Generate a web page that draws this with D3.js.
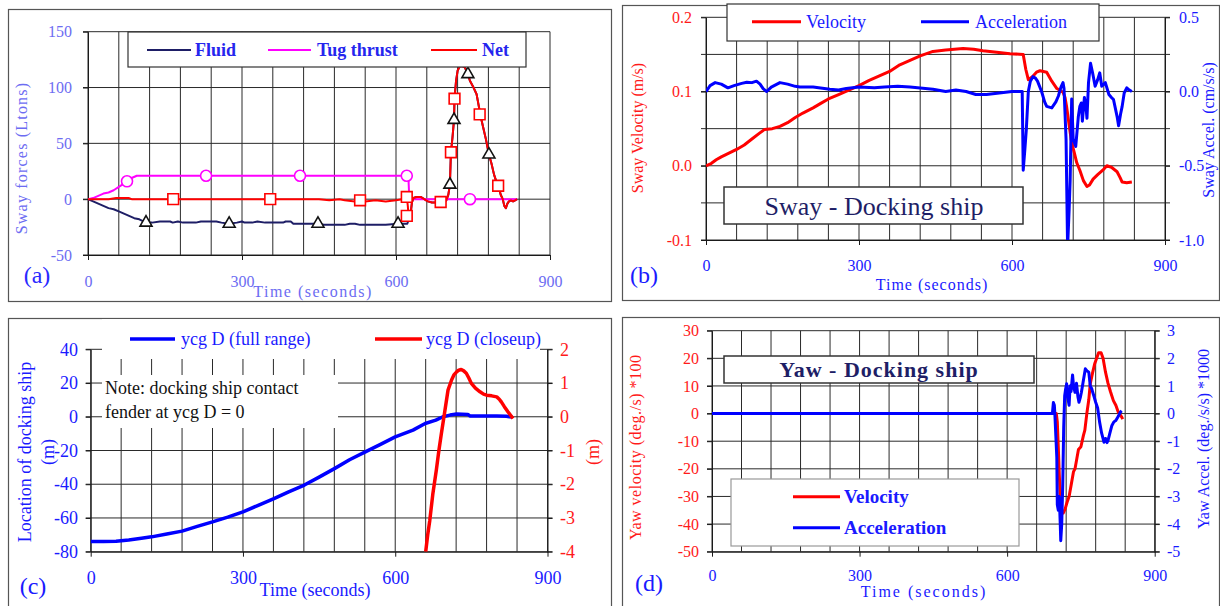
<!DOCTYPE html>
<html>
<head>
<meta charset="utf-8">
<script src="https://cdn.jsdelivr.net/npm/d3@7"></script>
<style>
  body { margin: 0; background: #fff; }
  svg text { font-family: "Liberation Serif", "Times New Roman", serif !important; }
</style>
</head>
<body>
<div id="canvas"></div>
<script>
// ---- shared ticks ----
var timeTicks = [0, 300, 600, 900];
var timeGrid = [0, 60, 120, 180, 240, 300, 360, 420, 480, 540, 600, 660, 720, 780, 840, 900];

// ---- (a) sway forces ----
var aForceTicks = [-50, 0, 50, 100, 150];
var aFluidEarly = [[0,0],[10,-2],[20,-4],[30,-6],[40,-8],[50,-9],[60,-11],[70,-13],[80,-15],[90,-17],[100,-18],[113,-21],[125,-21],[140,-20],[160,-20],[165,-21],[175,-20],[185,-21],[210,-21],[220,-20],[250,-20],[260,-21],[275,-22],[290,-21],[300,-20],[305,-21],[320,-21],[330,-20],[345,-21],[380,-21],[385,-20],[395,-20],[400,-22],[445,-22],[460,-23],[500,-23],[510,-22],[520,-22],[530,-23],[580,-23],[604,-22],[622,-22]];
var aNetEarly = [[0,0],[20,0],[40,0],[55,1],[80,1],[85,0],[166,0],[355,0],[450,0],[470,-1],[490,0],[500,-1],[520,-2],[530,-1],[540,-2],[560,-1],[580,-2],[600,-1],[612,0],[618,0],[621,2],[623,-6]];
var aContact = [[625,-18],[628,-15],[631,-3],[634,1],[640,2],[648,2],[655,0],[662,-2],[670,-3],[690,-3],[698,-1],[702,4],[705,13],[707,42],[710,55],[713,71],[714,90],[717,106],[720,115],[724,119],[730,119],[734,118],[740,112],[744,106],[750,101],[757,94],[761,84],[765,74],[770,64],[775,54],[781,40],[786,32],[791,22],[796,15],[800,11],[804,4],[808,0],[811,-6],[814,-8],[817,-4],[820,-2],[824,-1],[828,-2],[832,-1],[836,0]];
var aTug = [[0,0],[10,1],[20,3],[30,5],[40,6],[50,8],[60,11],[70,14],[76,16],[85,19],[95,21],[620,21],[624,21],[626,0],[836,0]];
var aFluidMarks = [[113,-21],[275,-22],[448,-22],[604,-22],[705,13],[713,71],[740,112],[781,40]];
var aTugMarks = [[76,16],[230,21],[413,21],[621,21],[744,0]];
var aNetMarks = [[166,0],[355,0],[530,-1],[621,2],[621,-15],[687,-2.5],[707,42],[714,90],[763,76],[799,12]];

// ---- (b) sway velocity / acceleration ----
var bVelTicks = [-0.1, 0, 0.1, 0.2];
var bVelGrid = [-0.1, -0.05, 0, 0.05, 0.1, 0.15, 0.2];
var bAccTicks = [-1, -0.5, 0, 0.5];
var bVel = [[0,0],[10,0.003],[20,0.008],[30,0.012],[45,0.017],[60,0.022],[75,0.028],[90,0.036],[105,0.044],[115,0.049],[130,0.050],[145,0.053],[160,0.058],[175,0.065],[190,0.071],[210,0.078],[225,0.084],[240,0.090],[260,0.096],[280,0.102],[300,0.108],[320,0.115],[340,0.121],[360,0.127],[380,0.136],[400,0.142],[420,0.148],[445,0.154],[470,0.156],[504,0.158],[525,0.157],[543,0.155],[570,0.153],[596,0.151],[622,0.150],[627,0.130],[632,0.116],[640,0.120],[648,0.126],[655,0.128],[668,0.126],[678,0.114],[688,0.104],[700,0.099],[704,0.092],[707,0.080],[712,0.055],[717,0.031],[722,0.018],[727,0.004],[733,-0.006],[740,-0.020],[747,-0.028],[752,-0.026],[759,-0.018],[768,-0.012],[778,-0.006],[786,0.000],[795,-0.002],[806,-0.008],[812,-0.016],[816,-0.022],[825,-0.023],[835,-0.022]];
var bAcc = [[0,0],[8,0.04],[18,0.06],[30,0.05],[43,0.025],[55,0.04],[70,0.055],[80,0.063],[90,0.06],[99,0.07],[106,0.05],[112,0.02],[119,0.0],[128,0.03],[145,0.06],[160,0.05],[175,0.035],[184,0.03],[210,0.03],[243,0.015],[260,0.01],[275,0.02],[300,0.03],[330,0.025],[350,0.03],[376,0.036],[400,0.03],[445,0.016],[470,0.0],[490,0.01],[510,0.0],[529,-0.02],[550,-0.02],[575,-0.01],[600,0.0],[620,0.0],[622,-0.53],[625,-0.4],[628,-0.26],[632,0.0],[636,0.07],[641,0.10],[646,0.09],[650,0.07],[658,0.0],[664,-0.07],[668,-0.10],[678,-0.11],[686,-0.07],[691,-0.03],[696,0.03],[700,0.06],[702,0.02],[706,-0.32],[709,-1.05],[712,-0.8],[714,-0.6],[717,-0.05],[720,-0.32],[725,-0.37],[730,-0.17],[733,-0.1],[736,-0.077],[738,-0.2],[742,-0.04],[745,-0.1],[747,-0.18],[750,0.06],[754,0.19],[758,0.126],[763,0.036],[768,0.08],[772,0.126],[776,0.036],[783,0.06],[790,-0.02],[795,-0.04],[799,-0.054],[806,-0.167],[809,-0.23],[813,-0.15],[816,-0.10],[820,-0.01],[825,0.025],[830,0.01],[835,0.0]];

// ---- (c) ship location ----
var cLocTicks = [-80, -60, -40, -20, 0, 20, 40];
var cCloseTicks = [-4, -3, -2, -1, 0, 1, 2];
var cFull = [[0,-74],[25,-74],[50,-73.8],[75,-73],[100,-72],[120,-71.2],[150,-69.5],[180,-67.8],[210,-65],[240,-62.3],[270,-59.5],[300,-56.4],[330,-52.5],[361,-48.5],[390,-44.5],[421,-40.5],[450,-35.8],[481,-30.6],[510,-25.5],[541,-20.8],[570,-16.5],[600,-11.9],[635,-7.9],[659,-4],[680,-2],[694,0],[708,1],[721,1.6],[743,1.4],[747,0.5],[780,0.5],[800,0.5],[819,0.3],[825,0],[831,-0.2]];
var cClose = [[660,-4],[664,-3.5],[668,-3.08],[674,-2.3],[681,-1.58],[686,-1.0],[691,-0.49],[697,0.1],[704,0.79],[711,1.09],[716,1.25],[721,1.33],[725,1.38],[730,1.4],[735,1.36],[740,1.29],[745,1.15],[750,0.99],[758,0.85],[767,0.74],[774,0.67],[780,0.64],[790,0.62],[800,0.59],[805,0.52],[809,0.44],[815,0.3],[822,0.15],[828,0.03],[832,-0.05]];

// ---- (d) yaw velocity / acceleration ----
var dVelTicks = [-50, -40, -30, -20, -10, 0, 10, 20, 30];
var dAccTicks = [-5, -4, -3, -2, -1, 0, 1, 2, 3];
var dVel = [[0,0],[700,0],[702,-3],[704,-12],[706,-22],[708,-30],[711,-36],[714,-36],[718,-34.5],[722,-32],[726,-30],[731,-25],[735,-21],[738,-20],[742,-16],[745,-13],[750,-12],[755,-8],[758,-6],[762,0],[766,5],[769,10.8],[774,15],[778,18],[782,20],[786,22],[791,22],[795,20],[800,15],[805,11],[810,8],[816,4.7],[821,3],[826,0.5],[833,-1.3],[835,-2]];
var dAcc = [[0,0],[692,0],[694,0.4],[696,0.3],[697,0],[699,-0.8],[701,-1.6],[702,-3.3],[704,-3.5],[706,-3.0],[708,-4.0],[709,-4.6],[711,-4.0],[713,-2.6],[715,-0.5],[717,0.65],[719,0.9],[721,1.08],[723,0.6],[726,0.3],[728,1.0],[730,0.8],[733,1.4],[735,1.0],[738,0.77],[741,1.1],[744,0.6],[746,0.41],[749,0.6],[751,0.77],[755,1.2],[759,1.62],[762,1.55],[766,1.5],[769,1.0],[772,0.9],[774,0.77],[777,0.6],[780,0.41],[784,0.2],[788,-0.31],[792,-0.7],[797,-1.04],[800,-0.9],[803,-1.05],[805,-0.98],[809,-0.7],[813,-0.43],[817,-0.3],[821,-0.25],[826,-0.1],[830,0.05],[833,0.1]];

var BLUE = "#1a1aff", RED = "#ff1a1a", NAVY = "#1e1e66", PALE = "#6c6cf2";
var SERIF = "'Liberation Serif', 'Times New Roman', serif";

var svg = d3.select("#canvas").append("svg").attr("width", 1220).attr("height", 606);
svg.append("rect").attr("width", 1220).attr("height", 606).attr("fill", "#fff");

// panel frames
[[8,9,603,292],[622,5,597,295],[8,318,603,300],[622,317,597,300]].forEach(function(f) {
    svg.append("rect").attr("x", f[0] + 0.5).attr("y", f[1] + 0.5).attr("width", f[2]).attr("height", f[3])
        .attr("fill", "none").attr("stroke", "#555").attr("stroke-width", 1.2);
});

var clipN = 0;
function makePanel(o) {
    var x = d3.scaleLinear().domain([0, 900]).range([o.left, o.right]);
    var y = d3.scaleLinear().domain(o.yDom).range([o.bottom, o.top]);
    var y2 = o.y2Dom ? d3.scaleLinear().domain(o.y2Dom).range([o.bottom, o.top]) : null;
    var g = svg.append("g");

    // grid
    var grid = g.append("g").attr("stroke", "#2a2a2a").attr("stroke-width", 1);
    grid.selectAll(null).data(timeGrid).enter().append("line")
        .attr("x1", function(d){ return x(d); }).attr("x2", function(d){ return x(d); })
        .attr("y1", o.top).attr("y2", o.bottom);
    grid.selectAll(null).data(o.yGrid).enter().append("line")
        .attr("x1", o.left - 5).attr("x2", o.right + (y2 ? 5 : 0))
        .attr("y1", function(d){ return y(d); }).attr("y2", function(d){ return y(d); });

    // axes
    var fs = o.font;
    var xa = g.append("g").attr("transform", "translate(0," + o.bottom + ")")
        .call(d3.axisBottom(x).tickValues(timeTicks).tickSize(5).tickSizeOuter(0)
            .tickPadding(o.xBase - o.bottom - 5 - 0.71 * fs));
    var ya = g.append("g").attr("transform", "translate(" + o.left + ",0)")
        .call(d3.axisLeft(y).tickValues(o.yTicks).tickFormat(o.yFmt).tickSize(5).tickSizeOuter(0)
            .tickPadding(o.left - 5 - o.yEnd));
    var axes = [[xa, o.xColor], [ya, o.yColor]];
    if (y2) {
        var y2a = g.append("g").attr("transform", "translate(" + o.right + ",0)")
            .call(d3.axisRight(y2).tickValues(o.y2Ticks).tickFormat(o.y2Fmt).tickSize(5).tickSizeOuter(0)
                .tickPadding(o.y2Start - o.right - 5));
        axes.push([y2a, o.y2Color]);
    }
    axes.forEach(function(a) {
        a[0].attr("font-family", SERIF).attr("font-size", fs);
        a[0].selectAll("path, line").attr("stroke", "#1a1a1a");
        a[0].selectAll("text").attr("fill", a[1]).style("font-size", fs + "px").style("font-family", SERIF);
    });

    var id = "clip" + (clipN++);
    svg.append("clipPath").attr("id", id).append("rect")
        .attr("x", o.left).attr("y", o.top - 2).attr("width", o.right - o.left).attr("height", o.bottom - o.top + 2);
    return { g: g, x: x, y: y, y2: y2, clip: "url(#" + id + ")" };
}

function drawLine(p, data, ys, color, w) {
    var line = d3.line().x(function(d){ return p.x(d[0]); }).y(function(d){ return ys(d[1]); });
    p.g.append("path").datum(data).attr("d", line).attr("fill", "none")
        .attr("stroke", color).attr("stroke-width", w).attr("stroke-linejoin", "round")
        .attr("clip-path", p.clip);
}

function drawMarks(p, data, type, size, color) {
    p.g.selectAll(null).data(data).enter().append("path")
        .attr("d", d3.symbol().type(type).size(size))
        .attr("transform", function(d){ return "translate(" + p.x(d[0]) + "," + p.y(d[1]) + ")"; })
        .attr("fill", "#fff").attr("stroke", color).attr("stroke-width", 1.6);
}

function box(x0, y0, x1, y1, stroke, sw) {
    svg.append("rect").attr("x", x0).attr("y", y0).attr("width", x1 - x0).attr("height", y1 - y0)
        .attr("fill", "#fff").attr("stroke", stroke || "none").attr("stroke-width", sw || 1.2);
}

function label(txt, x, y, color, size, opt) {
    opt = opt || {};
    var t = svg.append("text").text(txt).attr("x", x).attr("y", y).attr("fill", color)
        .style("font-size", size + "px").style("font-family", SERIF)
        .attr("text-anchor", opt.anchor || "start");
    if (opt.bold) t.style("font-weight", "bold");
    if (opt.ls) t.style("letter-spacing", opt.ls + "px");
    if (opt.rot) t.attr("transform", "rotate(-90," + x + "," + y + ")").attr("dy", opt.dy || "0.35em");
    return t;
}

function legendLine(x0, x1, y, color, w) {
    svg.append("line").attr("x1", x0).attr("x2", x1).attr("y1", y).attr("y2", y)
        .attr("stroke", color).attr("stroke-width", w);
}

var fmt1 = function(d){ return d.toFixed(1); };
var fmt0 = function(d){ return String(d); };

// ================= (a) =================
var pa = makePanel({ left: 88, right: 550, top: 31.7, bottom: 255, yDom: [-50, 150],
    yGrid: aForceTicks, yTicks: aForceTicks, yFmt: fmt0, yEnd: 72, yColor: PALE,
    xBase: 287, xColor: PALE, font: 16 });
box(128, 32, 526, 67, "#333");
drawLine(pa, aFluidEarly.concat(aContact), pa.y, NAVY, 2);
drawLine(pa, aTug, pa.y, "#ff00ff", 2);
drawLine(pa, aNetEarly.concat(aContact), pa.y, "#ff0000", 2);
drawMarks(pa, aFluidMarks, d3.symbolTriangle, 62, "#111");
drawMarks(pa, aTugMarks, d3.symbolCircle, 95, "#ff00ff");
drawMarks(pa, aNetMarks, d3.symbolSquare, 115, "#ff0000");
legendLine(147, 191, 50, NAVY, 2);
label("Fluid", 195, 56, "#2525ee", 18, { bold: true });
legendLine(268, 311, 50, "#ff00ff", 2);
label("Tug thrust", 317, 56, "#2525ee", 18, { bold: true });
legendLine(431, 477, 50, "#ff0000", 2);
label("Net", 482, 56, "#2525ee", 18, { bold: true });
label("Sway forces  (Ltons)", 21, 158, PALE, 16, { rot: true, anchor: "middle", ls: 1.2 });
label("Time (seconds)", 313, 297, PALE, 16, { anchor: "middle", ls: 1.5 });
label("(a)", 37, 283, "#2a2aff", 24, { anchor: "middle" });

// ================= (b) =================
var pb = makePanel({ left: 706, right: 1165, top: 17.3, bottom: 240, yDom: [-0.1, 0.2], y2Dom: [-1, 0.5],
    yGrid: bVelGrid, yTicks: bVelTicks, yFmt: fmt1, yEnd: 692, yColor: RED,
    y2Ticks: bAccTicks, y2Fmt: fmt1, y2Start: 1179, y2Color: BLUE,
    xBase: 271, xColor: BLUE, font: 16 });
box(727, 4, 1099, 41, "#333");
box(724, 187, 1023, 224, "#333", 1.5);
drawLine(pb, bVel, pb.y, "#ff0000", 3);
drawLine(pb, bAcc, pb.y2, "#0000ff", 3);
legendLine(752, 801, 21.7, "#ff0000", 3);
label("Velocity", 806, 28, BLUE, 18);
legendLine(921, 969, 21.7, "#0000ff", 3);
label("Acceleration", 975, 28, BLUE, 18);
label("Sway - Docking ship", 874, 215, NAVY, 26, { anchor: "middle" });
label("Sway Velocity (m/s)", 637, 128, RED, 16, { rot: true, anchor: "middle" });
label("Sway Accel. (cm/s/s)", 1208, 130, BLUE, 16, { rot: true, anchor: "middle" });
label("Time (seconds)", 932, 290, BLUE, 16, { anchor: "middle", ls: 1 });
label("(b)", 644, 283, BLUE, 24, { anchor: "middle" });

// ================= (c) =================
var pc = makePanel({ left: 90.7, right: 547.5, top: 349.3, bottom: 551.7, yDom: [-80, 40], y2Dom: [-4, 2],
    yGrid: cLocTicks, yTicks: cLocTicks, yFmt: fmt0, yEnd: 78, yColor: BLUE,
    y2Ticks: cCloseTicks, y2Fmt: fmt0, y2Start: 560, y2Color: RED,
    xBase: 584, xColor: BLUE, font: 18 });
box(102, 319, 540, 359);
box(102, 375, 338, 428);
drawLine(pc, cFull, pc.y, "#0000ff", 3.5);
drawLine(pc, cClose, pc.y2, "#ff0000", 3.5);
legendLine(130, 175, 339, "#0000ff", 3.5);
label("ycg D (full range)", 181, 345, BLUE, 18);
legendLine(375, 422, 339, "#ff0000", 3.5);
label("ycg D (closeup)", 426, 345, BLUE, 18);
label("Note: docking ship contact", 105, 394, "#111", 18);
label("fender at ycg D = 0", 105, 418, "#111", 18);
label("Location of docking ship", 25, 452, BLUE, 18, { rot: true, anchor: "middle" });
label("(m)", 48, 452, BLUE, 18, { rot: true, anchor: "middle" });
label("(m)", 593, 452, RED, 18, { rot: true, anchor: "middle" });
label("Time (seconds)", 315, 596, BLUE, 18, { anchor: "middle" });
label("(c)", 33, 594, BLUE, 24, { anchor: "middle" });

// ================= (d) =================
var pd = makePanel({ left: 712, right: 1154.7, top: 330.7, bottom: 551.7, yDom: [-50, 30], y2Dom: [-5, 3],
    yGrid: dVelTicks, yTicks: dVelTicks, yFmt: fmt0, yEnd: 699, yColor: RED,
    y2Ticks: dAccTicks, y2Fmt: fmt0, y2Start: 1167, y2Color: BLUE,
    xBase: 581, xColor: BLUE, font: 16 });
box(724, 356, 1034, 383, "#333", 1.5);
box(731, 479, 1019, 546, "#999");
drawLine(pd, dVel, pd.y, "#ff0000", 3);
drawLine(pd, dAcc, pd.y2, "#0000ff", 3);
label("Yaw - Docking ship", 879, 377, NAVY, 22, { anchor: "middle", bold: true, ls: 1 });
legendLine(793, 840, 496.7, "#ff0000", 3);
label("Velocity", 844, 503, BLUE, 19, { bold: true });
legendLine(793, 840, 527.7, "#0000ff", 3);
label("Acceleration", 844, 534, BLUE, 19, { bold: true });
svg.append("clipPath").attr("id", "clipYawLab").append("rect").attr("x", 600).attr("y", 354).attr("width", 80).attr("height", 250);
var yl = svg.append("g").attr("clip-path", "url(#clipYawLab)");
yl.append("text").text("Yaw velocity (deg./s) *1000").attr("x", 635).attr("y", 540).attr("dy", "0.35em")
    .attr("transform", "rotate(-90,635,540)").attr("fill", RED)
    .style("font-size", "16px").style("font-family", SERIF).style("letter-spacing", "0.5px");
label("Yaw Accel. (deg./s/s) *1000", 1203, 439, BLUE, 16, { rot: true, anchor: "middle" });
label("Time (seconds)", 924, 597, BLUE, 16, { anchor: "middle", ls: 2 });
label("(d)", 649, 591, BLUE, 24, { anchor: "middle" });
</script>
</body>
</html>
